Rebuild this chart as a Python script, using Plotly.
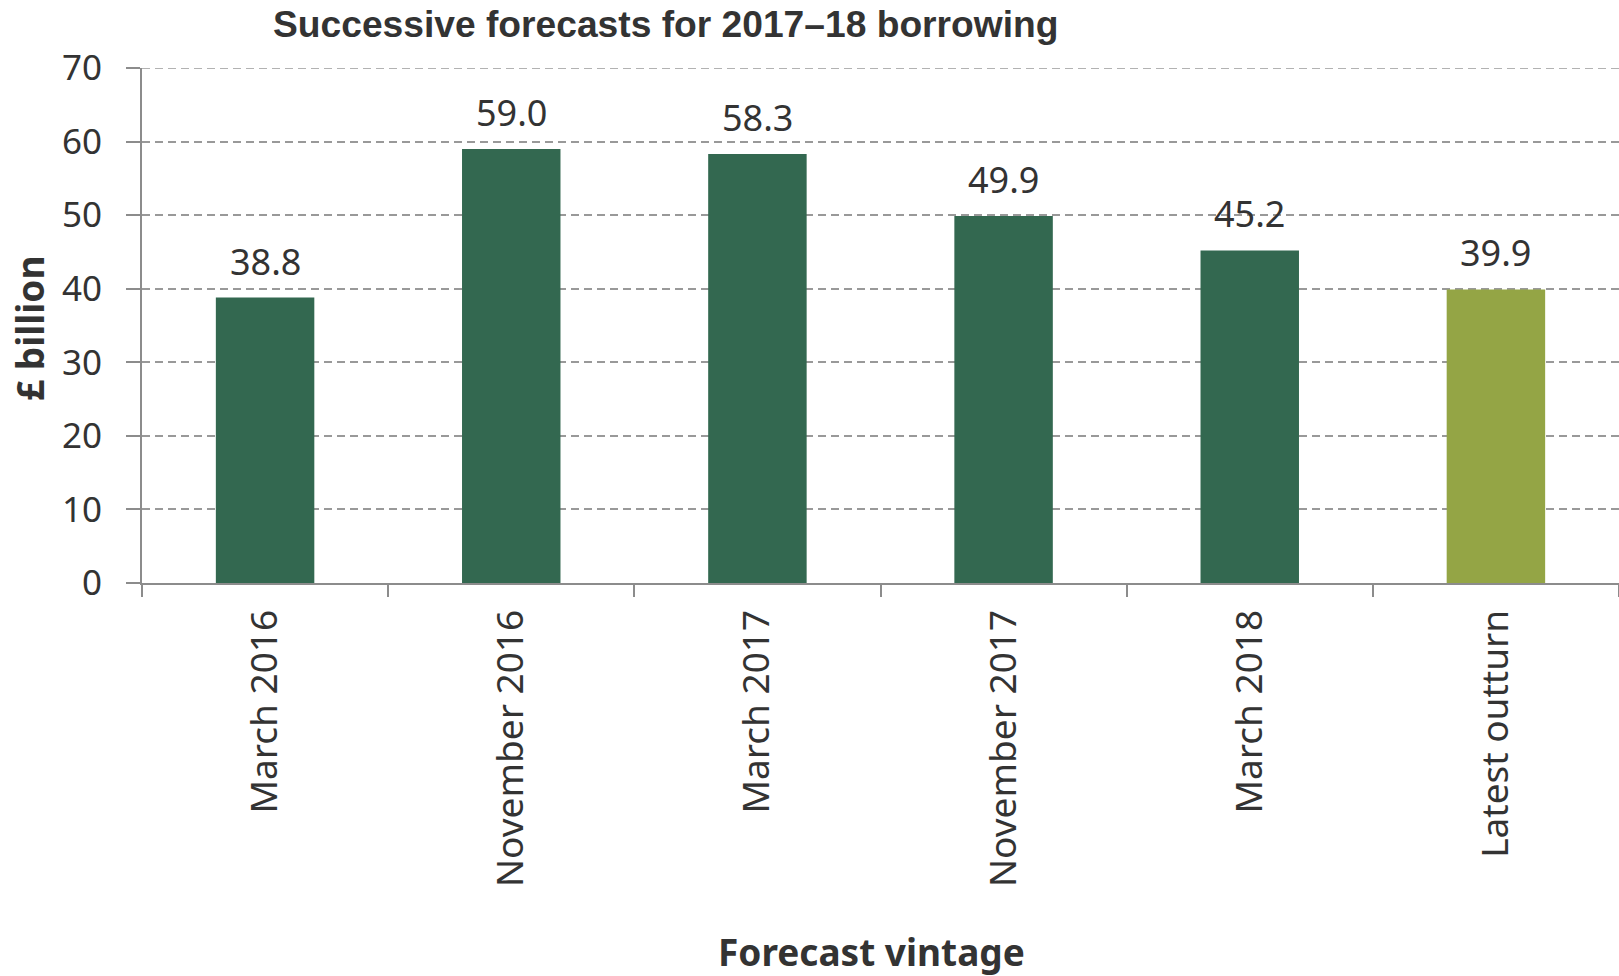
import plotly.graph_objects as go

categories = ["March 2016", "November 2016", "March 2017", "November 2017", "March 2018", "Latest outturn"]
values = [38.8, 59.0, 58.3, 49.9, 45.2, 39.9]
labels = ["38.8", "59.0", "58.3", "49.9", "45.2", "39.9"]
colors = ["#336850", "#336850", "#336850", "#336850", "#336850", "#94A545"]
y_ticks = [0, 10, 20, 30, 40, 50, 60, 70]

FONT = "Noto Sans"
TXT = "#333333"
AX = "#8c8c8c"
GRID = "#999999"
DASH = "8px,5px"

W, H = 1619, 976
L, R, T = 142, 0, 68
PLOT_BOTTOM = 583
B = H - PLOT_BOTTOM
PW, PH = W - L - R, H - T - B

fig = go.Figure()
fig.add_trace(go.Bar(
    x=categories, y=values, marker=dict(color=colors, line=dict(width=0)),
    width=0.4, hoverinfo="skip", showlegend=False,
))

for c, v, t in zip(categories, values, labels):
    fig.add_annotation(x=c, y=v, text=t, showarrow=False, yanchor="bottom",
                       yshift=10, font=dict(family=FONT, size=36, color=TXT))

# top gridline (at the range edge plotly skips it)
fig.add_shape(type="line", xref="paper", yref="y", x0=0, x1=1, y0=y_ticks[-1], y1=y_ticks[-1],
              line=dict(color=GRID, width=1.5, dash=DASH), layer="below")

# axis titles
fig.add_annotation(text="<b>Forecast vintage</b>", xref="paper", yref="paper",
                   x=(871 - L) / PW, y=(PLOT_BOTTOM - 951) / PH,
                   xanchor="center", yanchor="middle",
                   showarrow=False, font=dict(family=FONT, size=37, color=TXT))
fig.add_annotation(text="<b>£ billion</b>", xref="paper", yref="paper",
                   x=(29 - L) / PW, y=(PLOT_BOTTOM - 328) / PH,
                   xanchor="center", yanchor="middle",
                   textangle=-90, showarrow=False, font=dict(family=FONT, size=37, color=TXT))

fig.update_layout(
    width=W, height=H,
    margin=dict(l=L, r=R, t=T, b=B, autoexpand=False),
    plot_bgcolor="white", paper_bgcolor="white",
    font=dict(family=FONT, color=TXT),
    title=dict(text="<b>Successive forecasts for 2017–18 borrowing</b>",
               font=dict(family="Liberation Sans", size=37.2, color=TXT),
               x=273 / W, xanchor="left", xref="container",
               y=1 - 24 / H, yanchor="middle", yref="container"),
    xaxis=dict(
        range=[-0.5, 5.5], showline=True, linecolor=AX, linewidth=2,
        ticks="outside", ticklen=12, tickcolor=AX, tickwidth=2,
        tickson="boundaries", tickangle=-90, automargin=False,
        ticklabelstandoff=10,
        tickfont=dict(family=FONT, size=37, color=TXT),
        showgrid=False,
    ),
    yaxis=dict(
        range=[0, 70], tickvals=y_ticks, showline=True, linecolor=AX, linewidth=2,
        ticks="outside", ticklen=14, tickcolor=AX, tickwidth=2, automargin=False,
        ticklabelstandoff=17,
        tickfont=dict(family=FONT, size=35, color=TXT),
        showgrid=True, gridcolor=GRID, griddash=DASH, gridwidth=1.5,
        zeroline=False,
    ),
)

# remove the browser's default 8px body margin so the figure fills the window exactly
fig.write_html("out.html", config={"displayModeBar": False},
               post_script="document.body.style.margin='0px';")
